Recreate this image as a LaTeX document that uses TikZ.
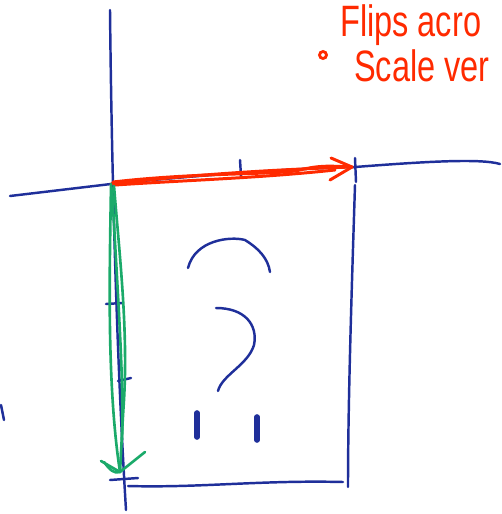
\documentclass[tikz,border=0pt]{standalone}
\usepackage{fontspec}
\setmainfont{Liberation Sans}
\usetikzlibrary{calc}
\definecolor{penblue}{HTML}{1F2F9A}
\definecolor{penred}{HTML}{FF2A00}
\definecolor{pengreen}{HTML}{1BAA6A}

\begin{document}
\begin{tikzpicture}[
  x=0.02cm, y=-0.02cm,
  axis/.style={draw=penblue, line width=1.4pt, line cap=round, line join=round},
  redpen/.style={draw=penred, line width=1.7pt, line cap=round, line join=round},
  greenpen/.style={draw=pengreen, line width=1.5pt, line cap=round, line join=round},
  note/.style={text=penred, font=\fontsize{25}{29}\selectfont, anchor=base west, inner sep=0pt, xscale=0.74}
]
\useasboundingbox (0,0) rectangle (501,514);

% corners of the sketch
\coordinate (O) at (111,184);
\coordinate (X) at (352,167);
\coordinate (Y) at (120,472);

% axes
\draw[axis] (110,10) .. controls (112,200) and (118,380) .. (126,510);
\draw[axis] (10,196) -- (O) .. controls (200,175) and (300,168) .. (355,167)
  .. controls (420,162) and (480,158) .. (500,164);
\draw[axis] (240,160) -- (241,176);
\draw[axis] (355,158) -- (356,182);
\draw[axis] (106,304) -- (122,303);
\draw[axis] (118,381) -- (131,378);
\draw[axis] (110,480) -- (138,478);
\draw[axis] (1,405) -- (4,420);

% the box
\draw[axis] (355,185) .. controls (352,280) and (348,400) .. (348,487);
\draw[axis] (128,486) .. controls (200,488) and (260,480) .. (343,482);

% question mark
\draw[axis] (188,268) .. controls (195,240) and (230,236) .. (245,240)
  .. controls (258,248) and (268,258) .. (270,272);
\draw[axis] (216,308) .. controls (245,308) and (258,325) .. (254,345)
  .. controls (248,365) and (222,375) .. (218,391);
\draw[axis, line width=3.2pt] (197,413) -- (197,437);
\draw[axis, line width=3.2pt] (257,417) -- (257,440);

% red arrow
\draw[redpen] (O) .. controls (180,176) and (260,170) .. (X);
\draw[redpen] (113,182) .. controls (200,172) and (280,175) .. (300,170)
  .. controls (320,165) and (330,166) .. (X);
\draw[redpen] (115,185) .. controls (190,180) and (260,178) .. (335,170);
\draw[redpen] (331,158) -- (X) -- (330,180);

% green arrow
\draw[greenpen] (O) .. controls (110,260) and (106,380) .. (Y);
\draw[greenpen] (114,186) .. controls (120,260) and (128,330) .. (124,400)
  .. controls (122,430) and (121,455) .. (Y);
\draw[greenpen] (112,188) .. controls (118,300) and (124,380) .. (122,440);
\draw[greenpen] (101,461) -- (Y) -- (145,452);
\draw[greenpen] (104,462) .. controls (110,470) and (114,474) .. (Y);

% notes
\node[note] (flips) at (340,36) {Flips acro};
\node[note] (scale) at (354,81) {Scale ver};
\draw[penred, line width=1.6pt] (323,55) circle (3.5);
\end{tikzpicture}
\end{document}
